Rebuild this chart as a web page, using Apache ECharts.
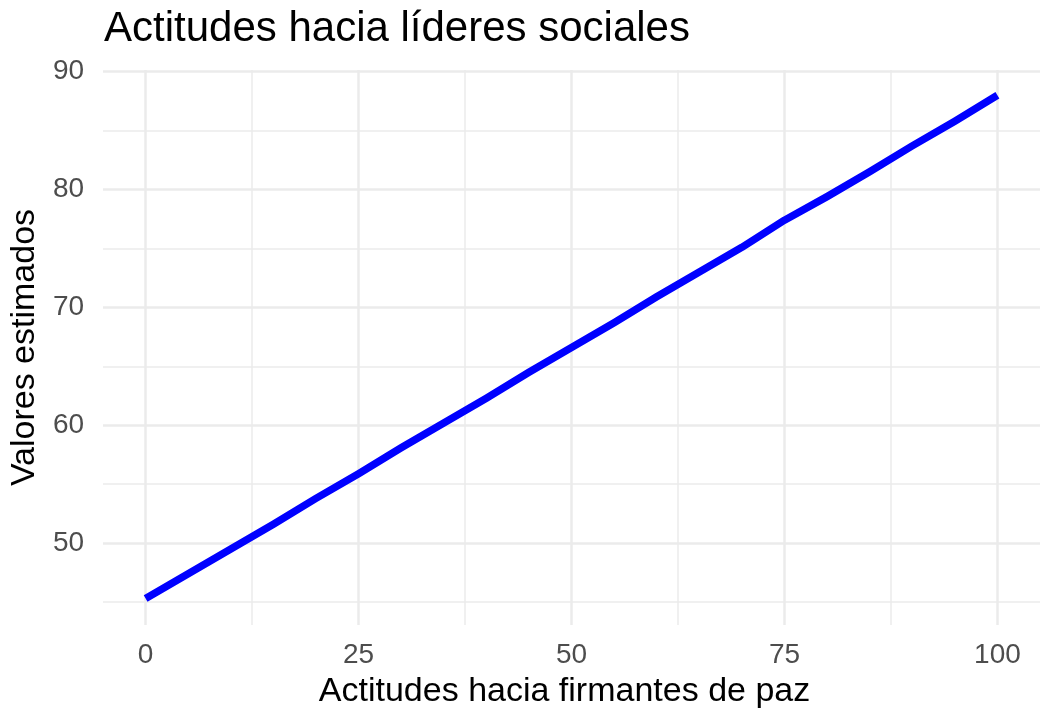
<!DOCTYPE html>
<html>
<head>
<meta charset="utf-8">
<title>Actitudes hacia líderes sociales</title>
<script src="https://cdn.jsdelivr.net/npm/echarts@6/dist/echarts.min.js"></script>
<style>
  html, body { margin: 0; padding: 0; background: #fff; }
  #chart { width: 1044px; height: 714px; }
</style>
</head>
<body>
<div id="chart"></div>
<script>
// actitud hacia firmantes de paz (x) y valor estimado (y)
var actitudFirmantes = [0, 5, 10, 15, 20, 25, 30, 35, 40, 45, 50, 55, 60, 65, 70, 75, 80, 85, 90, 95, 100];
var valoresEstimados = [45.3, 47.4, 49.5, 51.6, 53.8, 55.9, 58.1, 60.2, 62.3, 64.5, 66.6, 68.7, 70.9, 73.0, 75.1, 77.4, 79.4, 81.5, 83.7, 85.8, 88.0];

// marcas de los ejes
var xMajor = [0, 25, 50, 75, 100];
var xMinor = [12.5, 37.5, 62.5, 87.5];
var yMajor = [50, 60, 70, 80, 90];
var yMinor = [45, 55, 65, 75, 85];

var FONT = '"Liberation Sans", Arial, sans-serif';
var GRID_COLOR = '#ebebeb';

var puntos = actitudFirmantes.map(function (x, i) {
  return [x, valoresEstimados[i]];
});

var chart = echarts.init(document.getElementById('chart'), null, { renderer: 'canvas' });

chart.setOption({
  animation: false,
  backgroundColor: '#ffffff',
  title: {
    text: 'Actitudes hacia líderes sociales',
    left: 99,
    top: 3,
    textStyle: { fontFamily: FONT, fontSize: 42, fontWeight: 'normal', color: '#000000' }
  },
  grid: { left: 103, right: 4, top: 70, bottom: 89, containLabel: false },
  xAxis: [
    {
      type: 'value',
      min: -5,
      max: 105,
      name: 'Actitudes hacia firmantes de paz',
      nameLocation: 'middle',
      nameGap: 50,
      nameTextStyle: { fontFamily: FONT, fontSize: 34, color: '#000000', padding: [0, 14, 0, 0] },
      axisLine: { show: false },
      axisTick: { show: false, customValues: xMajor },
      axisLabel: { customValues: xMajor, margin: 16, fontFamily: FONT, fontSize: 28, color: '#4d4d4d' },
      splitLine: { show: true, lineStyle: { color: GRID_COLOR, width: 2.5 } }
    },
    {
      type: 'value',
      min: -5,
      max: 105,
      position: 'bottom',
      axisLine: { show: false },
      axisTick: { show: false, customValues: xMinor },
      axisLabel: { show: false, customValues: xMinor },
      splitLine: { show: true, lineStyle: { color: GRID_COLOR, width: 1.5 } }
    }
  ],
  yAxis: [
    {
      type: 'value',
      min: 43.06,
      max: 90.14,
      name: 'Valores estimados',
      nameLocation: 'middle',
      nameGap: 56,
      nameTextStyle: { fontFamily: FONT, fontSize: 34, color: '#000000' },
      axisLine: { show: false },
      axisTick: { show: false, customValues: yMajor },
      axisLabel: { customValues: yMajor, margin: 19, fontFamily: FONT, fontSize: 28, color: '#4d4d4d' },
      splitLine: { show: true, lineStyle: { color: GRID_COLOR, width: 2.5 } }
    },
    {
      type: 'value',
      min: 43.06,
      max: 90.14,
      position: 'left',
      axisLine: { show: false },
      axisTick: { show: false, customValues: yMinor },
      axisLabel: { show: false, customValues: yMinor },
      splitLine: { show: true, lineStyle: { color: GRID_COLOR, width: 1.5 } }
    }
  ],
  series: [
    {
      type: 'line',
      xAxisIndex: 0,
      yAxisIndex: 0,
      data: puntos,
      showSymbol: false,
      symbol: 'none',
      lineStyle: { color: '#0000ff', width: 7.5, cap: 'butt', join: 'round' },
      silent: true
    }
  ]
});
</script>
</body>
</html>
